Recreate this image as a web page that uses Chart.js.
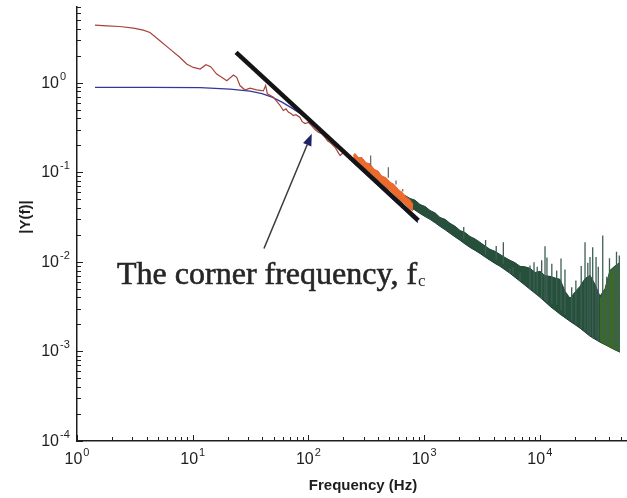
<!DOCTYPE html>
<html lang="en">
<head>
    <meta charset="UTF-8">
    <title>Corner frequency spectrum</title>
    <style>
        body { margin: 0; background: #fff; }
        #spectrum { display: block; }
    </style>
</head>
<body>
    <canvas id="spectrum" width="627" height="498"></canvas>

    <script src="https://cdn.jsdelivr.net/npm/chart.js@4.4.0/dist/chart.umd.min.js"></script>
    <script>
        // values: frequency in Hz, |Y(f)|
        const redFreq = [1.43, 1.81, 2.35, 3.07, 3.74, 4.27, 5.21, 6.36, 7.77, 8.87, 10.1, 11.6, 13.0, 14.3, 16.1, 17.8, 19.7, 22.5, 24.0, 25.6, 28.3, 31.3, 35.7, 40.8, 42.7, 44.2, 49.8, 56.8, 60.7, 64, 67, 71, 74, 78, 84.6, 88, 93.5, 100, 107, 114, 122, 130, 139, 146, 153, 160, 170, 178, 188, 196, 207, 220, 232, 244];
        const redVal = [4.40, 4.32, 4.24, 4.07, 3.86, 3.63, 2.94, 2.37, 1.91, 1.62, 1.48, 1.42, 1.59, 1.51, 1.25, 1.15, 1.05, 1.22, 1.15, 0.93, 0.83, 0.87, 0.83, 0.81, 0.93, 0.75, 0.69, 0.56, 0.49, 0.51, 0.47, 0.45, 0.43, 0.44, 0.41, 0.37, 0.35, 0.36, 0.33, 0.30, 0.28, 0.27, 0.246, 0.225, 0.216, 0.205, 0.19, 0.172, 0.154, 0.162, 0.167, 0.148, 0.138, 0.141];

        const blueFreq = [1.43, 4.27, 11.6, 21.0, 31.3, 39.7, 48.5, 59.1, 72.1, 88.1, 114, 154, 229, 341, 507, 885];
        const blueVal = [0.886, 0.886, 0.880, 0.846, 0.804, 0.754, 0.689, 0.606, 0.520, 0.440, 0.345, 0.232, 0.139, 0.0863, 0.0537, 0.0275];

        const orangeFreq = [244, 253, 270, 290, 315, 341, 370, 400, 430, 469, 505, 550, 600, 644, 700, 756, 802];
        const orangeUpper = [0.155, 0.162, 0.146, 0.146, 0.128, 0.124, 0.108, 0.103, 0.091, 0.087, 0.078, 0.073, 0.064, 0.060, 0.053, 0.049, 0.044];
        const orangeLower = [0.141, 0.141, 0.131, 0.120, 0.109, 0.099, 0.090, 0.082, 0.076, 0.068, 0.063, 0.057, 0.051, 0.047, 0.043, 0.039, 0.037];
        const orangeSpikeFreq = [345, 491, 572, 653];
        const orangeSpikeBase = [0.119, 0.087, 0.073, 0.061];
        const orangeSpikeTop = [0.154, 0.114, 0.081, 0.065];

        const greenFreq = [684, 755, 830, 922, 1020, 1125, 1250, 1372, 1520, 1675, 1850, 2043, 2260, 2493, 2760, 3041, 3370, 3714, 4100, 4530, 5000, 5524, 6100, 6745, 7450, 8228, 9100, 10040, 11100, 12250, 13550, 14960, 16500, 18240, 20150, 22250, 24600, 27160, 30000, 33110, 36600, 40440, 44700, 49320];
        const greenUpper = [0.0551, 0.0510, 0.0490, 0.0437, 0.0415, 0.0375, 0.0350, 0.0313, 0.0298, 0.0269, 0.0250, 0.0224, 0.0212, 0.0192, 0.0180, 0.0165, 0.0150, 0.0138, 0.0131, 0.0121, 0.0112, 0.0104, 0.0098, 0.00891, 0.00880, 0.00847, 0.00760, 0.00784, 0.00700, 0.00689, 0.00660, 0.00638, 0.00470, 0.00392, 0.00460, 0.00533, 0.00650, 0.00707, 0.00560, 0.00413, 0.00500, 0.00804, 0.00900, 0.00987];
        const greenLower = [0.0449, 0.0405, 0.0380, 0.0347, 0.0320, 0.0298, 0.0272, 0.0249, 0.0228, 0.0208, 0.0190, 0.0174, 0.0158, 0.0145, 0.0134, 0.0124, 0.0113, 0.0104, 0.0096, 0.00891, 0.00815, 0.00745, 0.00672, 0.00607, 0.00548, 0.00494, 0.00445, 0.00402, 0.00358, 0.00319, 0.00288, 0.00260, 0.00238, 0.00217, 0.00199, 0.00182, 0.00164, 0.00148, 0.00137, 0.00127, 0.00119, 0.00111, 0.00104, 0.00098];
        const greenTailFreq = [33110, 36600, 40440, 44700, 49320];
        const greenTailUpper = [0.00380, 0.00480, 0.00780, 0.00870, 0.00960];
        const greenTailLower = [0.00130, 0.00121, 0.00113, 0.00106, 0.00100];
        const greenSpikeFreq = [2200, 3400, 4200, 4840, 5524, 5862, 6745, 8228, 8913, 9500, 10380, 11090, 11530, 12700, 13990, 15250, 16500, 18870, 20500, 22800, 24590, 26000, 27160, 28650, 30620, 32000, 34990, 37860, 40000, 44670, 46000, 48640];
        const greenSpikeBase = [0.018, 0.012, 0.0105, 0.0095, 0.0075, 0.0072, 0.0061, 0.0049, 0.0046, 0.0043, 0.0039, 0.0037, 0.0036, 0.0034, 0.0033, 0.0029, 0.0026, 0.0022, 0.0020, 0.0018, 0.0017, 0.0016, 0.0015, 0.0014, 0.0014, 0.0013, 0.0013, 0.0012, 0.0012, 0.0011, 0.0011, 0.0010];
        const greenSpikeTop = [0.0245, 0.0175, 0.0150, 0.0166, 0.0085, 0.0087, 0.0076, 0.0091, 0.0099, 0.0088, 0.0104, 0.0149, 0.0112, 0.0095, 0.0080, 0.0109, 0.0082, 0.0052, 0.0062, 0.0090, 0.0166, 0.0098, 0.0113, 0.0146, 0.0113, 0.0088, 0.0197, 0.0068, 0.0110, 0.0088, 0.0130, 0.0118];

        // the fitted slope drawn over the data
        const slopeFreq = [23.7, 891];
        const slopeVal = [2.18, 0.029];

        const xDecades = [1, 10, 100, 1000, 10000];
        const yDecades = [1, 0.1, 0.01, 0.001, 0.0001];

        // annotation (data coordinates)
        const arrowTail = [41.3, 0.0141];
        const arrowTip = [107, 0.27];
        const noteAt = [2.22, 0.00561];
        const noteText = 'The corner frequency, f';
        const noteSub = 'c';

        const X_MIN = 1, X_MAX = 56700, Y_MIN = 1e-4, Y_MAX = 7;

        const toPoints = (xs, ys) => xs.map((f, i) => ({ x: f, y: ys[i] }));
        const toSpikes = (xs, base, top) => xs.flatMap((f, i) => [
            { x: f, y: base[i] }, { x: f, y: top[i] }, { x: f, y: null }
        ]);

        function logTicks(decades, max) {
            const out = [];
            decades.slice().sort((a, b) => a - b).forEach(d => {
                for (let k = 1; k <= 9; k++) {
                    if (d * k <= max) out.push({ value: d * k });
                }
            });
            return out;
        }

        const isDecade = v => Math.abs(Math.log10(v) - Math.round(Math.log10(v))) < 1e-9;

        const decorations = {
            id: 'decorations',
            afterDraw(chart) {
                const { ctx, chartArea: area, scales: { x, y } } = chart;
                ctx.save();

                // inward tick marks
                ctx.strokeStyle = '#1e1e1e';
                ctx.lineWidth = 1;
                ctx.beginPath();
                x.ticks.forEach(t => {
                    const px = Math.round(x.getPixelForValue(t.value)) + 0.5;
                    const len = isDecade(t.value) ? 6 : 4;
                    ctx.moveTo(px, area.bottom);
                    ctx.lineTo(px, area.bottom - len);
                });
                y.ticks.forEach(t => {
                    const py = Math.round(y.getPixelForValue(t.value)) + 0.5;
                    const len = isDecade(t.value) ? 6 : 4;
                    ctx.moveTo(area.left, py);
                    ctx.lineTo(area.left + len, py);
                });
                ctx.stroke();

                // tick labels, 10 with a raised exponent
                ctx.fillStyle = '#1e1e1e';
                ctx.textBaseline = 'middle';
                const base = '16px "Liberation Sans", Arial, sans-serif';
                const small = '11px "Liberation Sans", Arial, sans-serif';
                xDecades.forEach(d => {
                    const exp = String(Math.round(Math.log10(d)));
                    const px = x.getPixelForValue(d);
                    ctx.font = base;
                    const w10 = ctx.measureText('10').width;
                    ctx.font = small;
                    const wExp = ctx.measureText(exp).width;
                    const start = px - (w10 + 1 + wExp) / 2;
                    ctx.textAlign = 'left';
                    ctx.font = base;
                    ctx.fillText('10', start, area.bottom + 19);
                    ctx.font = small;
                    ctx.fillText(exp, start + w10 + 1, area.bottom + 12);
                });
                yDecades.forEach(d => {
                    const exp = String(Math.round(Math.log10(d)));
                    const py = y.getPixelForValue(d);
                    ctx.textAlign = 'right';
                    ctx.font = base;
                    ctx.fillText('10', area.left - 18, py + 0.5);
                    ctx.textAlign = 'left';
                    ctx.font = small;
                    ctx.fillText(exp, area.left - 17, py - 6);
                });

                // axis titles
                ctx.font = 'bold 15px "Liberation Sans", Arial, sans-serif';
                ctx.textAlign = 'center';
                ctx.fillText('Frequency (Hz)', area.left + 286, area.bottom + 45);
                ctx.save();
                ctx.translate(26, (area.top + area.bottom) / 2 - 7);
                ctx.rotate(-Math.PI / 2);
                ctx.fillText('|Y(f)|', 0, 0);
                ctx.restore();

                // arrow pointing at the corner
                const tx = x.getPixelForValue(arrowTail[0]), ty = y.getPixelForValue(arrowTail[1]);
                const hx = x.getPixelForValue(arrowTip[0]), hy = y.getPixelForValue(arrowTip[1]);
                const ang = Math.atan2(hy - ty, hx - tx);
                const headLen = 12, headHalf = 4.5;
                const bx = hx - headLen * Math.cos(ang), by = hy - headLen * Math.sin(ang);
                ctx.strokeStyle = '#3a3a3a';
                ctx.lineWidth = 1.5;
                ctx.beginPath();
                ctx.moveTo(tx, ty);
                ctx.lineTo(bx, by);
                ctx.stroke();
                ctx.fillStyle = '#1f2466';
                ctx.beginPath();
                ctx.moveTo(hx, hy);
                ctx.lineTo(bx + headHalf * Math.sin(ang), by - headHalf * Math.cos(ang));
                ctx.lineTo(bx - headHalf * Math.sin(ang), by + headHalf * Math.cos(ang));
                ctx.closePath();
                ctx.fill();

                // annotation text, slightly heavier than plain Times
                const nx = x.getPixelForValue(noteAt[0]), ny = y.getPixelForValue(noteAt[1]);
                ctx.fillStyle = '#262626';
                ctx.strokeStyle = '#262626';
                ctx.lineWidth = 0.6;
                ctx.textAlign = 'left';
                ctx.textBaseline = 'alphabetic';
                ctx.font = '32px "Liberation Serif", "Times New Roman", serif';
                ctx.fillText(noteText, nx, ny);
                ctx.strokeText(noteText, nx, ny);
                const wNote = ctx.measureText(noteText).width;
                ctx.font = '17px "Liberation Serif", "Times New Roman", serif';
                ctx.fillText(noteSub, nx + wNote + 1, ny + 2);

                ctx.restore();
            }
        };

        const line = (data, color, width, order, extra) => Object.assign({
            data, borderColor: color, backgroundColor: color, borderWidth: width,
            pointRadius: 0, fill: false, order, tension: 0
        }, extra || {});

        const ctx = document.getElementById('spectrum').getContext('2d');
        new Chart(ctx, {
            type: 'line',
            data: {
                datasets: [
                    line(toPoints(slopeFreq, slopeVal), '#141414', 4.5, 0, { borderCapStyle: 'butt' }),
                    line(toPoints(redFreq, redVal), '#a8423a', 1.2, 1),
                    line(toSpikes(orangeSpikeFreq, orangeSpikeBase, orangeSpikeTop), '#6c6c74', 1.3, 2, { spanGaps: false }),
                    line(toPoints(orangeFreq, orangeUpper), '#e8642a', 1, 3),
                    line(toPoints(orangeFreq, orangeLower), '#e8642a', 1, 3, { fill: '-1', backgroundColor: '#ec6a2c' }),
                    line(toSpikes(greenSpikeFreq, greenSpikeBase, greenSpikeTop), '#3d5f55', 1.3, 4, { spanGaps: false }),
                    line(toPoints(greenTailFreq, greenTailUpper), '#3a6a28', 1, 4),
                    line(toPoints(greenTailFreq, greenTailLower), '#3a6a28', 1, 4, { fill: '-1', backgroundColor: '#3b6a26' }),
                    line(toPoints(greenFreq, greenUpper), '#22423c', 1, 5),
                    line(toPoints(greenFreq, greenLower), '#1f3a40', 1, 5, { fill: '-1', backgroundColor: '#27503a' }),
                    line(toPoints(blueFreq, blueVal), '#30389a', 1.3, 6)
                ]
            },
            options: {
                responsive: false,
                animation: false,
                layout: { padding: { top: 7, right: 0, bottom: 0, left: 0 } },
                plugins: {
                    legend: { display: false },
                    tooltip: { enabled: false }
                },
                scales: {
                    x: {
                        type: 'logarithmic',
                        min: X_MIN,
                        max: X_MAX,
                        grid: { display: false },
                        border: { color: '#1e1e1e', width: 1.5 },
                        ticks: { display: false },
                        afterBuildTicks: s => { s.ticks = logTicks(xDecades, X_MAX); },
                        afterFit: s => { s.height = 57; }
                    },
                    y: {
                        type: 'logarithmic',
                        min: Y_MIN,
                        max: Y_MAX,
                        grid: { display: false },
                        border: { color: '#1e1e1e', width: 1.5 },
                        ticks: { display: false },
                        afterBuildTicks: s => { s.ticks = logTicks(yDecades, Y_MAX); },
                        afterFit: s => { s.width = 77; }
                    }
                }
            },
            plugins: [decorations]
        });
    </script>
</body>
</html>
